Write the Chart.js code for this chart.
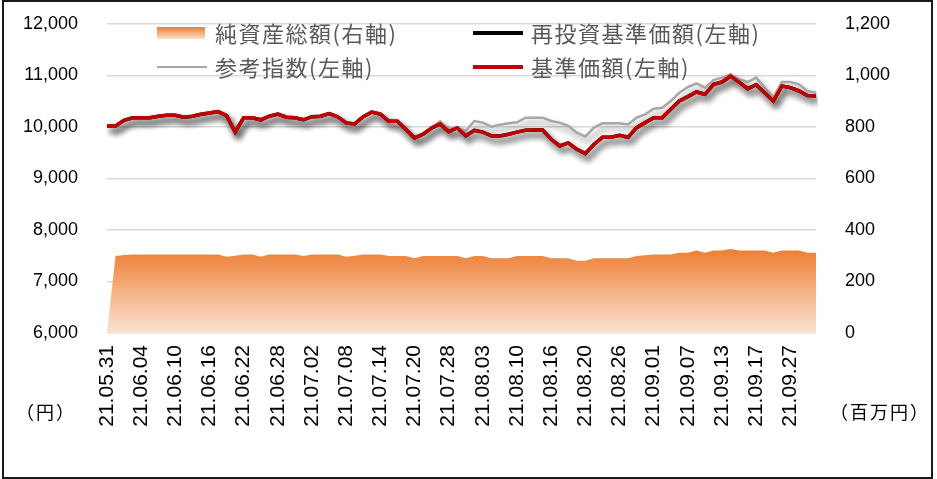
<!DOCTYPE html>
<html>
<head>
<meta charset="utf-8">
<script src="https://cdn.jsdelivr.net/npm/chart.js@4/dist/chart.umd.min.js"></script>
<style>
  html, body { margin: 0; padding: 0; background: #fff; }
  #wrap { position: relative; width: 937px; height: 479px; }
  #frame { position: absolute; left: 2px; top: 0; width: 927px; height: 475px; border: 2px solid #1a1a1a; pointer-events: none; }
  .unit { position: absolute; font-family: "Noto Sans CJK JP", sans-serif; font-size: 18px; color: #000; letter-spacing: 2px; }
  .leg { position: absolute; font-family: "Noto Sans CJK JP", sans-serif; font-size: 22px; color: #595959; letter-spacing: 1.5px; white-space: nowrap; line-height: 26px; }
  .sw { position: absolute; }
</style>
</head>
<body>
<div id="wrap">
  <canvas id="chart" width="937" height="479"></canvas>
  <div id="legend"></div>
  <div class="unit" style="left:16px; top:398px;">（円）</div>
  <div class="unit" style="left:830px; top:398px;">（百万円）</div>
  <div id="frame"></div>
</div>
<script>
// trading days shown on the x axis
const dates = [
  '21.05.31', '21.06.01', '21.06.02', '21.06.03', '21.06.04', '21.06.07', '21.06.08', '21.06.09', '21.06.10', '21.06.11',
  '21.06.14', '21.06.15', '21.06.16', '21.06.17', '21.06.18', '21.06.21', '21.06.22', '21.06.23', '21.06.24', '21.06.25',
  '21.06.28', '21.06.29', '21.06.30', '21.07.01', '21.07.02', '21.07.05', '21.07.06', '21.07.07', '21.07.08', '21.07.09',
  '21.07.12', '21.07.13', '21.07.14', '21.07.15', '21.07.16', '21.07.19', '21.07.20', '21.07.21', '21.07.26', '21.07.27',
  '21.07.28', '21.07.29', '21.07.30', '21.08.02', '21.08.03', '21.08.04', '21.08.05', '21.08.06', '21.08.10', '21.08.11',
  '21.08.12', '21.08.13', '21.08.16', '21.08.17', '21.08.18', '21.08.19', '21.08.20', '21.08.23', '21.08.24', '21.08.25',
  '21.08.26', '21.08.27', '21.08.30', '21.08.31', '21.09.01', '21.09.02', '21.09.03', '21.09.06', '21.09.07', '21.09.08',
  '21.09.09', '21.09.10', '21.09.13', '21.09.14', '21.09.15', '21.09.16', '21.09.17', '21.09.21', '21.09.22', '21.09.24',
  '21.09.27', '21.09.28', '21.09.29', '21.09.30'
];

// 基準価額 (円)
const navValues = [
  10020, 10020, 10130, 10180, 10180, 10180, 10210, 10227, 10227, 10190,
  10210, 10246, 10270, 10300, 10220, 9903, 10180, 10180, 10140, 10210,
  10250, 10190, 10180, 10140, 10200, 10210, 10260, 10200, 10080, 10060,
  10200, 10290, 10250, 10110, 10110, 9950, 9790, 9860, 9980, 10060,
  9910, 9985, 9830, 9936, 9900, 9830, 9825, 9860, 9900, 9936,
  9940, 9940, 9761, 9632, 9690, 9567, 9484, 9660, 9800, 9800,
  9840, 9800, 9988, 10085, 10182, 10182, 10343, 10504, 10590, 10680,
  10635, 10828, 10873, 10990, 10873, 10745, 10820, 10667, 10505, 10795,
  10764, 10700, 10610, 10600
];

// 再投資基準価額 (円) - no distributions, so it sits under the red line
const reinvValues = [
  10020, 10020, 10130, 10180, 10180, 10180, 10210, 10227, 10227, 10190,
  10210, 10246, 10270, 10300, 10220, 9903, 10180, 10180, 10140, 10210,
  10250, 10190, 10180, 10140, 10200, 10210, 10260, 10200, 10080, 10060,
  10200, 10290, 10250, 10110, 10110, 9950, 9790, 9860, 9980, 10060,
  9910, 9985, 9830, 9936, 9900, 9830, 9825, 9860, 9900, 9936,
  9940, 9940, 9761, 9632, 9690, 9567, 9484, 9660, 9800, 9800,
  9840, 9800, 9988, 10085, 10182, 10182, 10343, 10504, 10590, 10680,
  10635, 10828, 10873, 10990, 10873, 10745, 10820, 10667, 10505, 10795,
  10764, 10700, 10610, 10600
];

// 参考指数 (円)
const indexValues = [
  10020, 10020, 10130, 10180, 10180, 10180, 10210, 10227, 10227, 10190,
  10210, 10246, 10270, 10300, 10220, 9903, 10180, 10180, 10140, 10210,
  10250, 10190, 10180, 10140, 10200, 10210, 10260, 10200, 10080, 10060,
  10200, 10290, 10250, 10110, 10110, 9950, 9790, 9860, 10000, 10110,
  9960, 9988, 9922, 10116, 10085, 10007, 10045, 10072, 10090, 10182,
  10182, 10182, 10116, 10085, 10020, 9890, 9814, 9988, 10072, 10072,
  10072, 10050, 10182, 10246, 10355, 10374, 10504, 10667, 10776, 10848,
  10764, 10912, 10958, 11023, 10926, 10873, 10958, 10764, 10560, 10873,
  10873, 10828, 10700, 10667
];

// 純資産総額 (百万円)
const assetValues = [
  0, 299, 303, 305, 305, 305, 305, 305, 305, 305,
  305, 305, 305, 305, 296, 300, 305, 305, 296, 305,
  305, 305, 305, 299, 305, 305, 305, 305, 296, 300,
  305, 305, 305, 299, 299, 299, 290, 299, 299, 299,
  299, 299, 290, 299, 299, 290, 290, 290, 299, 299,
  299, 299, 290, 290, 290, 281, 281, 290, 290, 290,
  290, 290, 299, 302, 305, 305, 305, 312, 312, 320,
  312, 320, 320, 326, 320, 320, 320, 320, 312, 320,
  320, 320, 312, 312
];

const leftTicks = { min: 6000, max: 12000, step: 1000 };
const rightTicks = { min: 0, max: 1200, step: 200 };

const legendItems = [
  { label: '純資産総額(右軸)', kind: 'box', x: 157, y: 33 },
  { label: '再投資基準価額(左軸)', kind: 'line', color: '#000000', width: 4, x: 473, y: 33 },
  { label: '参考指数(左軸)', kind: 'line', color: '#a6a6a6', width: 2.5, x: 157, y: 67 },
  { label: '基準価額(左軸)', kind: 'line', color: '#c00000', width: 4, x: 473, y: 67 }
];

function buildLegend() {
  const box = document.getElementById('legend');
  legendItems.forEach(item => {
    const sw = document.createElement('div');
    sw.className = 'sw';
    if (item.kind === 'box') {
      sw.style.cssText = `left:${item.x}px; top:${item.y - 6}px; width:48px; height:12px;` +
        'background: linear-gradient(to bottom, #ed7d31, #fbe0cc);';
    } else {
      sw.style.cssText = `left:${item.x}px; top:${item.y - item.width / 2}px; width:50px; height:${item.width}px; background:${item.color};`;
    }
    box.appendChild(sw);
    const t = document.createElement('div');
    t.className = 'leg';
    t.style.left = (item.x + 58) + 'px';
    t.style.top = (item.y - 14) + 'px';
    t.textContent = item.label;
    box.appendChild(t);
  });
}

// soft drop shadow under the line series, like the Excel original
const shadowPlugin = {
  id: 'lineShadow',
  beforeDatasetDraw(chart, args) {
    if (args.meta.type !== 'line' || chart.data.datasets[args.index].fill) return;
    const ctx = chart.ctx;
    ctx.save();
    ctx.shadowColor = 'rgba(0, 0, 0, 0.45)';
    ctx.shadowBlur = 6;
    ctx.shadowOffsetX = 3;
    ctx.shadowOffsetY = 5;
  },
  afterDatasetDraw(chart, args) {
    if (args.meta.type !== 'line' || chart.data.datasets[args.index].fill) return;
    chart.ctx.restore();
  }
};

function areaGradient(context) {
  const area = context.chart.chartArea;
  if (!area) return '#ed7d31';
  const yScale = context.chart.scales.y2;
  const top = yScale.getPixelForValue(330);
  const g = context.chart.ctx.createLinearGradient(0, top, 0, area.bottom);
  g.addColorStop(0, '#ed7d31');
  g.addColorStop(1, '#fbe3d3');
  return g;
}

// fixed widths for the value axes; drop the label padding Chart.js adds above/below
function fixAxis(width) {
  return s => {
    s.width = width;
    s.paddingTop = 0;
    s.paddingBottom = 0;
  };
}

const tickFont = { family: 'Liberation Sans', size: 18 };

new Chart(document.getElementById('chart').getContext('2d'), {
  type: 'line',
  data: {
    labels: dates,
    datasets: [
      {
        label: '純資産総額(右軸)',
        data: assetValues,
        yAxisID: 'y2',
        fill: 'origin',
        backgroundColor: areaGradient,
        borderWidth: 0,
        pointRadius: 0,
        order: 3
      },
      {
        label: '再投資基準価額(左軸)',
        data: reinvValues,
        yAxisID: 'y',
        borderColor: '#000000',
        borderWidth: 3.5,
        pointRadius: 0,
        fill: false,
        order: 2
      },
      {
        label: '参考指数(左軸)',
        data: indexValues,
        yAxisID: 'y',
        borderColor: '#a6a6a6',
        borderWidth: 2.5,
        pointRadius: 0,
        fill: false,
        order: 1
      },
      {
        label: '基準価額(左軸)',
        data: navValues,
        yAxisID: 'y',
        borderColor: '#c00000',
        borderWidth: 3.5,
        pointRadius: 0,
        fill: false,
        order: 0
      }
    ]
  },
  options: {
    responsive: false,
    animation: false,
    layout: { padding: { top: 24, left: 0, right: 0, bottom: 0 } },
    scales: {
      x: {
        offset: false,
        grid: { display: false, drawTicks: false },
        border: { display: false },
        afterFit: s => { s.height = 146; },
        ticks: {
          autoSkip: false,
          maxRotation: 90,
          minRotation: 90,
          padding: 12,
          color: '#000',
          font: { family: 'Liberation Sans', size: 21 },
          callback: function (value, index) {
            return index % 4 === 0 ? dates[index] : '';
          }
        }
      },
      y: {
        position: 'left',
        min: leftTicks.min,
        max: leftTicks.max,
        afterFit: fixAxis(107),
        grid: { color: '#d9d9d9', lineWidth: 1.5, drawTicks: false },
        border: { display: false },
        ticks: {
          stepSize: leftTicks.step,
          padding: 29,
          color: '#000',
          font: tickFont,
          callback: v => v.toLocaleString('en-US')
        }
      },
      y2: {
        position: 'right',
        min: rightTicks.min,
        max: rightTicks.max,
        afterFit: fixAxis(121),
        grid: { display: false, drawTicks: false },
        border: { display: false },
        ticks: {
          stepSize: rightTicks.step,
          padding: 29,
          color: '#000',
          font: tickFont,
          callback: v => v.toLocaleString('en-US')
        }
      }
    },
    plugins: {
      legend: { display: false },
      tooltip: { enabled: false }
    }
  },
  plugins: [shadowPlugin]
});

buildLegend();
</script>
</body>
</html>
